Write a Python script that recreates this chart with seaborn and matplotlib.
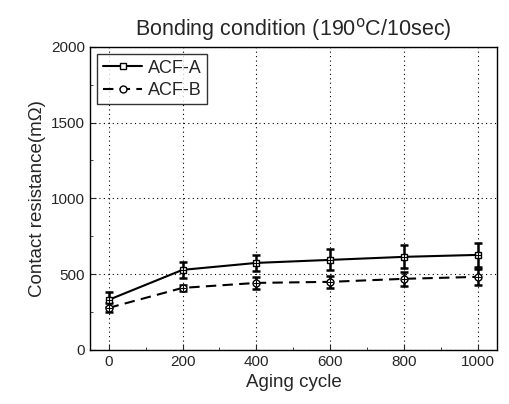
import pandas as pd
import matplotlib.pyplot as plt
import seaborn as sns
from matplotlib.ticker import MultipleLocator

cycles = [0, 200, 400, 600, 800, 1000]
acf_a = [330, 528, 574, 594, 614, 627]
acf_a_err = [50, 55, 55, 70, 75, 80]
acf_b = [277, 409, 442, 449, 469, 482]
acf_b_err = [30, 20, 40, 40, 45, 55]

df = pd.DataFrame({
    'cycle': cycles * 2,
    'res': acf_a + acf_b,
    'err': acf_a_err + acf_b_err,
    'sample': ['ACF-A'] * 6 + ['ACF-B'] * 6,
})

sns.set_style('white')
plt.rcParams['font.family'] = ['Liberation Sans', 'DejaVu Sans']

fig = plt.figure(figsize=(5.09, 4.04), dpi=100)
ax = fig.add_axes([0.177, 0.134, 0.799, 0.750])

for name, grp in df.groupby('sample'):
    ax.errorbar(grp['cycle'], grp['res'], yerr=grp['err'], fmt='none',
                ecolor='black', elinewidth=1.8, capsize=3, capthick=1.8)

sns.lineplot(data=df, x='cycle', y='res', style='sample', ax=ax,
             color='black', linewidth=1.5, markers={'ACF-A': 's', 'ACF-B': 'o'},
             dashes={'ACF-A': '', 'ACF-B': (5, 3)}, markersize=5,
             markerfacecolor='white', markeredgecolor='black', markeredgewidth=1)
# crosshair inside the markers
sns.scatterplot(data=df, x='cycle', y='res', ax=ax, marker='+', color='black',
                s=25, linewidth=0.8, legend=False, zorder=5)

ax.set_xlim(-50, 1050)
ax.set_ylim(0, 2000)
ax.set_xticks(cycles)
ax.set_yticks([0, 500, 1000, 1500, 2000])
ax.xaxis.set_minor_locator(MultipleLocator(100))
ax.yaxis.set_minor_locator(MultipleLocator(250))
ax.tick_params(which='both', direction='in', bottom=True, left=True, labelsize=11)
ax.tick_params(which='major', length=4)
ax.tick_params(which='minor', length=2)
ax.grid(True, linestyle=(0, (1, 3)), color='black', linewidth=0.8)
for s in ax.spines.values():
    s.set_color('black')
    s.set_linewidth(1)

ax.set_title('Bonding condition (190$^{\\rm o}$C/10sec)', fontsize=15.5, pad=8)
ax.set_xlabel('Aging cycle', fontsize=13.5)
ax.set_ylabel('Contact resistance(m\u03a9)', fontsize=13.5)

leg = ax.legend(loc='upper left', fontsize=13, frameon=True, fancybox=False,
                edgecolor='black', handlelength=2.2, handletextpad=0.3,
                borderaxespad=0.4, borderpad=0.3, labelspacing=0.3)
leg.get_frame().set_linewidth(1)

fig.savefig('out.png', dpi=100)
